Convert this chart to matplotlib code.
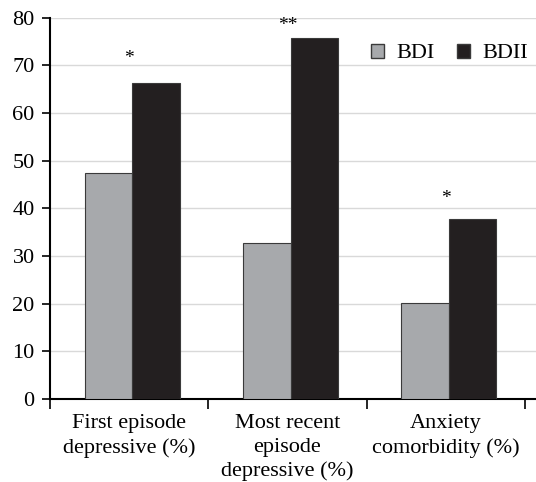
import matplotlib.pyplot as plt
from matplotlib.patches import Patch
import numpy as np

categories = ['First episode\ndepressive (%)', 'Most recent\nepisode\ndepressive (%)', 'Anxiety\ncomorbidity (%)']
bdi = [47.5, 32.8, 20.2]
bdii = [66.4, 75.8, 37.8]
stars = ['*', '**', '*']
star_y = [71.5, 78.3, 42.0]

plt.rcParams['font.family'] = ['Liberation Serif', 'DejaVu Serif']

fig = plt.figure(figsize=(5.36, 4.82), dpi=100)
ax = fig.add_axes([0.093, 0.172, 0.907, 0.791])

x = np.arange(len(categories))
w = 0.3
gray = '#a7a9ac'
black = '#231f20'
ax.bar(x - w / 2 + 0.02, bdi, w, color=gray, edgecolor='#3a3a3a', linewidth=0.8, zorder=3)
ax.bar(x + w / 2 + 0.02, bdii, w, color=black, edgecolor='#3a3a3a', linewidth=0.8, zorder=3)

for xi, s, sy in zip(x, stars, star_y):
    ax.text(xi, sy, s, ha='center', va='center', fontsize=14)

ax.set_xlim(-0.5, 2.57)
ax.set_ylim(0, 80)
ax.set_yticks(range(0, 81, 10))
ax.yaxis.grid(True, color='#d9d9d9', linewidth=1, zorder=0)
ax.set_axisbelow(True)

ax.set_xticks([-0.5, 0.5, 1.5, 2.5])
ax.set_xticklabels([])
ax.set_xticks(x, minor=True)
ax.set_xticklabels(categories, minor=True, fontsize=16, linespacing=1.3)
ax.tick_params(axis='x', which='minor', length=0, pad=11)
ax.tick_params(axis='x', which='major', length=7, width=1.2)
ax.tick_params(axis='y', labelsize=16, length=6, width=1.2, pad=5)

for s in ['top', 'right']:
    ax.spines[s].set_visible(False)
for s in ['left', 'bottom']:
    ax.spines[s].set_linewidth(1.5)

handles = [Patch(facecolor=gray, edgecolor='#3a3a3a', label='BDI'),
           Patch(facecolor=black, edgecolor='#3a3a3a', label='BDII')]
ax.legend(handles=handles, loc='upper right', ncol=2, frameon=False, fontsize=16,
          handlelength=0.6, handleheight=0.6, handletextpad=0.55, columnspacing=1.0,
          bbox_to_anchor=(1.025, 0.985))

fig.savefig('out.png', dpi=100)
